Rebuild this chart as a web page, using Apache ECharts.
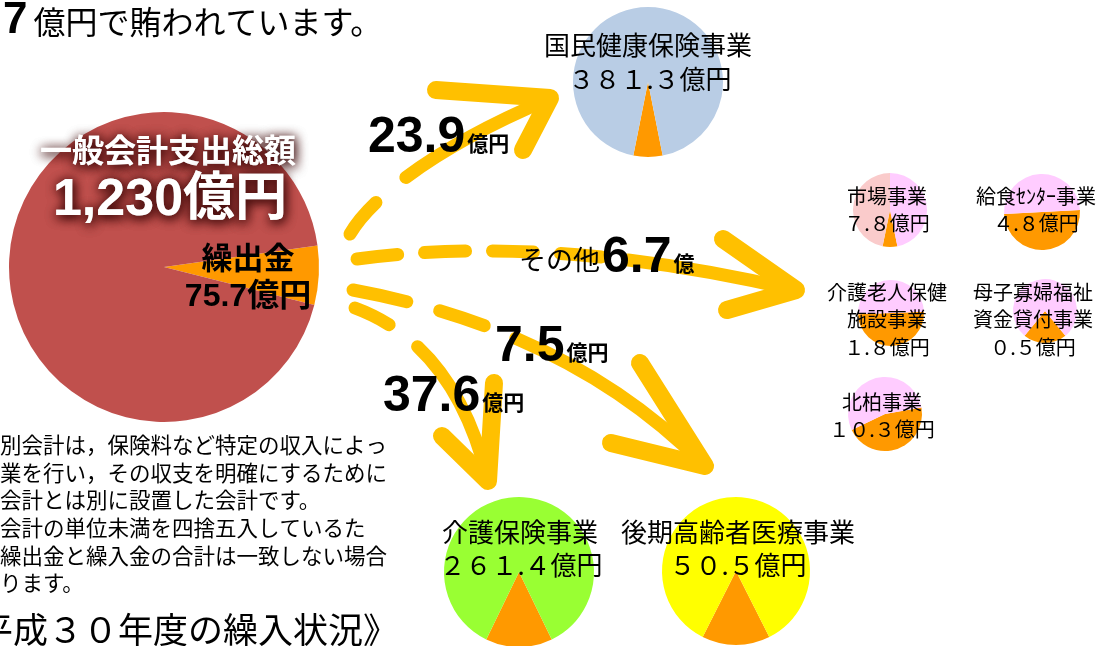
<!DOCTYPE html>
<html>
<head>
<meta charset="utf-8">
<script src="https://cdn.jsdelivr.net/npm/echarts@6/dist/echarts.min.js"></script>
<style>
html, body { margin: 0; padding: 0; background: #ffffff; }
#chart { width: 1108px; height: 646px; }
</style>
</head>
<body>
<div id="chart"></div>
<script>
// 一般会計と繰出金（億円）
const generalTotal = 1230;
const transferOut = 75.7;
const otherTransferTotal = 6.7;

// 特別会計：名称・規模・繰入金（億円）
const accountNames = ['国民健康保険事業', '介護保険事業', '後期高齢者医療事業', '市場事業', '給食ｾﾝﾀｰ事業', '介護老人保健\n施設事業', '母子寡婦福祉\n資金貸付事業', '北柏事業'];
const accountTotals = [381.3, 261.4, 50.5, 7.8, 4.8, 1.8, 0.5, 10.3];
const accountTransfers = [23.9, 37.6, 7.5, 0.5, 2.4, 0.9, 0.11, 4.7];
// 市場事業の繰入金以外の内訳（2区分）
const marketOtherParts = [3.65, 3.65];

// 本文
const headLine = ['7', '億円で賄われています。'];
const noteLines = [
  '別会計は，保険料など特定の収入によっ',
  '業を行い，その収支を明確にするために',
  '会計とは別に設置した会計です。',
  '会計の単位未満を四捨五入しているた',
  '繰出金と繰入金の合計は一致しない場合',
  'ります。'
];
const sectionTitle = '平成３０年度の繰入状況》';

// ---- styling / layout ----
const ORANGE = '#FF9900';
const ARROW = '#FFC000';
const JP = '"Noto Sans CJK JP", "Noto Sans", sans-serif';
const NUM = '"Liberation Sans", Arial, "Noto Sans CJK JP", sans-serif';

const pieLayout = [
  { center: [648, 82],  r: 75, colors: ['#B9CDE5'], nameAt: [648, 45],  valueAt: [650, 79],  size: 26 },
  { center: [519, 572], r: 75, colors: ['#99FF33'], nameAt: [520, 532], valueAt: [521, 565], size: 26 },
  { center: [736, 571], r: 74, colors: ['#FFFF00'], nameAt: [738, 532], valueAt: [738, 565], size: 26 },
  { center: [890, 210], r: 37, colors: ['#FACBCB', '#FFCCFF'], nameAt: [887, 196], valueAt: [887, 223], size: 20 },
  { center: [1042, 212], r: 38, colors: ['#FFCCFF'], start: 3, nameAt: [1036, 196], valueAt: [1036, 223], size: 20 },
  { center: [891, 313], r: 33, colors: ['#FFCCFF'], start: 2, nameAt: [887, 292], valueAt: [887, 347], size: 20 },
  { center: [1045, 311], r: 32, colors: ['#FFCCFF'], nameAt: [1033, 292], valueAt: [1033, 347], size: 20 },
  { center: [885, 414], r: 37, colors: ['#FFCCFF'], start: 10, nameAt: [882, 402], valueAt: [882, 429], size: 20 }
];

function toFullWidth(v) {
  return String(v).replace(/[0-9]/g, d => String.fromCharCode(d.charCodeAt(0) + 0xFEE0));
}

function pie(center, r, startAngle, values, colors) {
  return {
    type: 'pie',
    center: center,
    radius: r,
    startAngle: startAngle,
    clockwise: true,
    silent: true,
    animation: false,
    avoidLabelOverlap: false,
    minAngle: 0,
    label: { show: false },
    labelLine: { show: false },
    itemStyle: { borderWidth: 0 },
    emphasis: { disabled: true },
    data: values.map((v, i) => ({ value: v, itemStyle: { color: colors[i] } }))
  };
}

const series = [];
// 一般会計の円
series.push(pie([164, 267], 155, 8, [transferOut, generalTotal - transferOut], [ORANGE, '#C0504D']));
// 各特別会計の円
accountNames.forEach((name, i) => {
  const L = pieLayout[i];
  const values = i === 3
    ? [accountTransfers[i]].concat(marketOtherParts)
    : [accountTransfers[i], +(accountTotals[i] - accountTransfers[i]).toFixed(2)];
  const start = L.start !== undefined ? L.start : -90 + 180 * accountTransfers[i] / accountTotals[i];
  series.push(pie(L.center, L.r, start, values, [ORANGE].concat(L.colors)));
});

// ---- graphic helpers ----
function text(x, y, str, font, extra) {
  return {
    type: 'text', x: x, y: y, z: 100, silent: true,
    style: Object.assign({
      text: str, font: font, fill: '#000',
      textAlign: 'center', textVerticalAlign: 'middle'
    }, extra || {})
  };
}

function richText(x, y, str, rich, align) {
  return {
    type: 'text', x: x, y: y, z: 100, silent: true,
    style: {
      text: str, rich: rich, fill: '#000',
      textAlign: align || 'left', textVerticalAlign: 'middle'
    }
  };
}

const bigNum = { fontFamily: NUM, fontWeight: 'bold', fontSize: 50, fill: '#000', verticalAlign: 'middle', lineHeight: 52 };
const unitSmall = { fontFamily: JP, fontWeight: 'bold', fontSize: 21, fill: '#000', verticalAlign: 'middle', lineHeight: 24, padding: [11, 0, 0, 2] };

// 矢印（破線の軸＋山形の矢じり）
const arrows = [
  { p0: [350, 234], c1: [372, 196], c2: [440, 145], p1: [549, 99], dash: [41, 39, 2000, 0],
    head: [[436, 90], [550, 98], [523, 150]] },
  { p0: [357, 259], c1: [550, 233], p1: [795, 290], dash: [41, 27, 41, 27, 41, 27, 41, 27, 2000, 0],
    head: [[723, 239], [796, 290], [727, 310]] },
  { p0: [353, 290], c1: [570, 330], p1: [704, 465], dash: [55, 34, 47, 34, 2000, 0],
    head: [[640, 363], [705, 466], [611, 443]] },
  { p0: [355, 308], c1: [455, 345], p1: [488, 480], dash: [38, 36, 2000, 0],
    head: [[442, 436], [488, 481], [494, 383]] }
];

const graphics = [];
arrows.forEach(a => {
  const shape = { x1: a.p0[0], y1: a.p0[1], x2: a.p1[0], y2: a.p1[1], cpx1: a.c1[0], cpy1: a.c1[1] };
  if (a.c2) { shape.cpx2 = a.c2[0]; shape.cpy2 = a.c2[1]; }
  graphics.push({
    type: 'bezierCurve', z: 1, silent: true, shape: shape,
    style: { stroke: ARROW, lineWidth: 13, lineCap: 'round', lineDash: a.dash, fill: null }
  });
  graphics.push({
    type: 'polyline', z: 1, silent: true, shape: { points: a.head },
    style: { stroke: ARROW, lineWidth: 18, lineCap: 'round', lineJoin: 'round', fill: null }
  });
});

// 見出し行
graphics.push(richText(3, 21, '{a|' + headLine[0] + '}{b|' + headLine[1] + '}', {
  a: { fontFamily: NUM, fontWeight: 'bold', fontSize: 44, fill: '#000', verticalAlign: 'middle', lineHeight: 44 },
  b: { fontFamily: JP, fontSize: 32, fill: '#000', verticalAlign: 'middle', lineHeight: 40, padding: [2, 0, 0, 6] }
}));

// 一般会計の表示（白文字＋暗い影）
const whiteShadow = { fill: '#fff', textShadowColor: 'rgba(60,8,8,1)', textShadowBlur: 12, textShadowOffsetX: 1, textShadowOffsetY: 2 };
graphics.push(text(168, 150, '一般会計支出総額', 'bold 32px ' + JP, whiteShadow));
graphics.push(text(168, 150, '一般会計支出総額', 'bold 32px ' + JP, whiteShadow));
graphics.push(text(170, 201, generalTotal.toLocaleString('en-US') + '億円', 'bold 52px ' + NUM, whiteShadow));
graphics.push(text(170, 201, generalTotal.toLocaleString('en-US') + '億円', 'bold 52px ' + NUM, whiteShadow));
graphics.push(text(248, 257, '繰出金', 'bold 31px ' + JP));
graphics.push(text(248, 297, transferOut + '億円', 'bold 32px ' + NUM));

// 繰入金の表示
graphics.push(richText(368, 138, '{d|' + accountTransfers[0] + '}{u|億円}', { d: bigNum, u: unitSmall }));
graphics.push(richText(519, 258, '{t|その他}{d|' + otherTransferTotal + '}{u|億}', {
  t: { fontFamily: JP, fontSize: 27, fill: '#000', verticalAlign: 'middle', lineHeight: 32, padding: [4, 2, 0, 0] },
  d: bigNum, u: unitSmall
}));
graphics.push(richText(495, 347, '{d|' + accountTransfers[2] + '}{u|億円}', { d: bigNum, u: unitSmall }));
graphics.push(richText(383, 397, '{d|' + accountTransfers[1] + '}{u|億円}', { d: bigNum, u: unitSmall }));

// 各特別会計の名称と規模
accountNames.forEach((name, i) => {
  const L = pieLayout[i];
  name.split('\n').forEach((ln, k) => {
    graphics.push(text(L.nameAt[0], L.nameAt[1] + 27.5 * k, ln, L.size + 'px ' + JP));
  });
  graphics.push(text(L.valueAt[0], L.valueAt[1], toFullWidth(accountTotals[i]) + '億円', L.size + 'px ' + JP));
});

// 注記
noteLines.forEach((ln, k) => {
  graphics.push(text(0, 445 + k * 27.6, ln, '21.5px ' + JP, { textAlign: 'left' }));
});
graphics.push(text(-22, 630, sectionTitle, '35px ' + JP, { textAlign: 'left' }));

const chart = echarts.init(document.getElementById('chart'), null, { renderer: 'canvas' });
chart.setOption({
  backgroundColor: '#ffffff',
  animation: false,
  series: series,
  graphic: { elements: graphics }
});
</script>
</body>
</html>
